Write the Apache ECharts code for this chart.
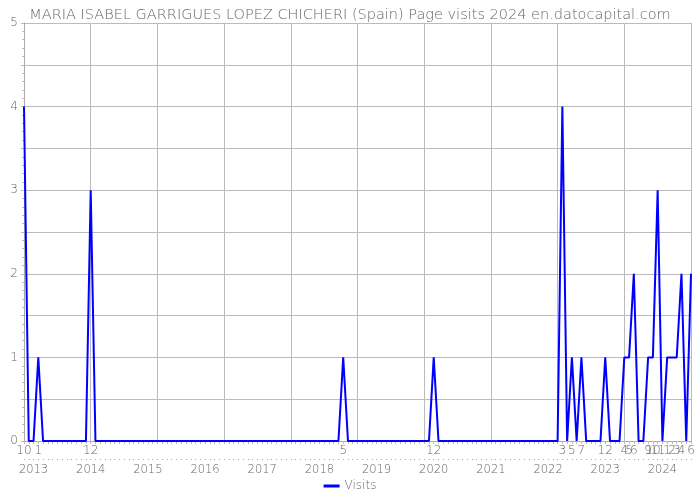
<!DOCTYPE html>
<html>
<head>
<meta charset="utf-8">
<script src="https://cdn.jsdelivr.net/npm/echarts@6/dist/echarts.min.js"></script>
<style>html,body{margin:0;padding:0;background:#fff}#c{width:700px;height:500px}</style>
</head>
<body>
<div id="c"></div>
<script>
var titleText = 'MARIA ISABEL GARRIGUES LOPEZ CHICHERI (Spain) Page visits 2024 en.datocapital.com';
var seriesName = 'Visits';
var startYear = 2012, startMonth = 10, monthCount = 141;
// monthly visits, Oct 2012 .. Jun 2024
var visits = [
  4,0,0,
  1,0,0,0,0,0,0,0,0,0,0,3,
  0,0,0,0,0,0,0,0,0,0,0,0,
  0,0,0,0,0,0,0,0,0,0,0,0,
  0,0,0,0,0,0,0,0,0,0,0,0,
  0,0,0,0,0,0,0,0,0,0,0,0,
  0,0,0,0,1,0,0,0,0,0,0,0,
  0,0,0,0,0,0,0,0,0,0,0,1,
  0,0,0,0,0,0,0,0,0,0,0,0,
  0,0,0,0,0,0,0,0,0,0,0,0,
  0,0,4,0,1,0,1,0,0,0,0,1,
  0,0,0,1,1,2,0,0,1,1,3,0,
  1,1,1,2,0,2
];
var yTickLabels = ['0','1','2','3','4','5'];

var categories = [];
(function(){
  var y = startYear, m = startMonth;
  for (var i = 0; i < monthCount; i++) {
    categories.push(y + '-' + (m < 10 ? '0' + m : m));
    m++; if (m > 12) { m = 1; y++; }
  }
})();

var font = 'DejaVu Sans';
var fw = 200;
var txt = '#666';
var chart = echarts.init(document.getElementById('c'), null, {renderer: 'canvas'});
chart.setOption({
  animation: false,
  title: {
    text: titleText, left: 'center', top: 3,
    textStyle: {fontFamily: font, fontSize: 14.5, fontWeight: fw, color: txt}
  },
  legend: {
    data: [seriesName], bottom: 3, left: 'center',
    icon: 'rect', itemWidth: 16, itemHeight: 3, itemGap: 5,
    textStyle: {fontFamily: font, fontSize: 12, fontWeight: fw, color: txt}
  },
  grid: {left: 24, right: 9, top: 23, bottom: 59, containLabel: false},
  xAxis: [{
    type: 'category', data: categories, boundaryGap: false, position: 'bottom',
    axisLine: {show: true, lineStyle: {color: '#aaa'}},
    axisTick: {show: true, interval: 0, length: 3, lineStyle: {color: '#bbb'}},
    axisLabel: {
      interval: 0, margin: 4, fontFamily: font, fontSize: 12, fontWeight: fw, color: txt,
      formatter: function (v, i) { return visits[i] > 0 ? String(parseInt(v.split('-')[1], 10)) : ''; }
    },
    splitLine: {show: true, interval: 13, lineStyle: {color: '#bbb'}}
  }, {
    type: 'category', data: categories, boundaryGap: false, position: 'bottom', offset: 18,
    axisLine: {show: false},
    axisTick: {show: true, interval: 0, length: 1, lineStyle: {color: '#aaa'}},
    axisLabel: {
      interval: 0, margin: 5, fontFamily: font, fontSize: 11.5, fontWeight: fw, color: txt,
      formatter: function (v) { var p = v.split('-'); return p[1] === '12' ? String(parseInt(p[0], 10) + 1) : ''; }
    },
    splitLine: {show: false}
  }],
  yAxis: {
    type: 'value', min: 0, max: 5, interval: 0.5,
    axisLine: {show: true, lineStyle: {color: '#aaa'}},
    axisTick: {show: true, length: 3, lineStyle: {color: '#bbb'}},
    minorTick: {show: true, splitNumber: 5, length: 2, lineStyle: {color: '#bbb'}},
    axisLabel: {
      margin: 6, fontFamily: font, fontSize: 12, fontWeight: fw, color: txt,
      formatter: function (v) { return Math.abs(v - Math.round(v)) < 1e-9 ? yTickLabels[Math.round(v)] : ''; }
    },
    splitLine: {show: true, lineStyle: {color: '#bbb'}}
  },
  series: [{
    name: seriesName, type: 'line', data: visits, xAxisIndex: 0,
    symbol: 'none', smooth: false,
    lineStyle: {color: '#0000ff', width: 2}, itemStyle: {color: '#0000ff'}
  }]
});
</script>
</body>
</html>
